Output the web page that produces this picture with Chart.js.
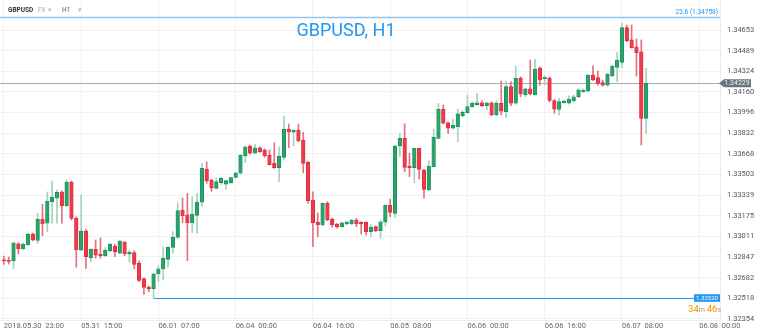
<!DOCTYPE html>
<html>
<head>
<meta charset="utf-8">
<script src="https://cdn.jsdelivr.net/npm/chart.js@4.4.0/dist/chart.umd.min.js"></script>
<style>
  body { margin: 0; background: #fff; font-family: Roboto, sans-serif; }
  #wrap { position: relative; width: 760px; height: 335px; overflow: hidden; }
  #chart { position: absolute; left: 0; top: 0; }
  .hd { position: absolute; top: 6px; font-size: 6.5px; line-height: 8px; white-space: nowrap; }
  #title { position: absolute; left: 0; top: 20px; width: 692px; text-align: center;
           font-size: 18px; line-height: 20px; color: #2196f3; }
  #timer { position: absolute; left: 688px; top: 303px; font-size: 7px; color: #9a9a9a; white-space: nowrap; }
  #timer b { font-size: 9.5px; font-weight: 500; color: #f5a623; }
</style>
</head>
<body>
<div id="wrap">
  <canvas id="chart" width="760" height="335"></canvas>
  <div class="hd" style="left:8px;color:#333;font-weight:bold;">GBPUSD</div>
  <div class="hd" style="left:38px;color:#aaa;">FX</div>
  <div class="hd" style="left:48px;color:#bbb;">&#9662;</div>
  <div class="hd" style="left:62px;color:#555;">H1</div>
  <div class="hd" style="left:78px;color:#bbb;">&#9662;</div>
  <div id="title">GBPUSD, H1</div>
  <div id="timer"><b>34</b>m <b>46</b>s</div>
</div>
<script>
// GBPUSD H1 candles, 2018.05.30 23:00 onwards (one per hour, weekend skipped)
const opens = [1.32822,1.32818,1.32815,1.32952,1.32910,1.32942,1.33029,1.32979,1.33149,1.33115,
  1.33287,1.33314,1.33364,1.33255,1.33443,1.33154,1.32900,1.33053,1.32841,1.32908,
  1.32868,1.32857,1.32894,1.32931,1.32876,1.32966,1.32868,1.32881,1.32798,1.32674,
  1.32608,1.32594,1.32711,1.32751,1.32828,1.32923,1.33003,1.33220,1.33183,1.33119,
  1.33178,1.33282,1.33547,1.33459,1.33393,1.33438,1.33427,1.33437,1.33479,1.33513,
  1.33653,1.33730,1.33672,1.33716,1.33698,1.33656,1.33592,1.33557,1.33640,1.33865,
  1.33841,1.33857,1.33778,1.33600,1.33300,1.33123,1.33101,1.33274,1.33146,1.33109,
  1.33088,1.33109,1.33109,1.33141,1.33123,1.33123,1.33048,1.33088,1.33056,1.33123,
  1.33258,1.33194,1.33730,1.33791,1.33571,1.33557,1.33712,1.33539,1.33380,1.33565,
  1.33791,1.34022,1.33915,1.33871,1.33883,1.33969,1.33995,1.34043,1.34059,1.34074,
  1.34051,1.34074,1.33977,1.34070,1.34003,1.34202,1.34070,1.34269,1.34136,1.34184,
  1.34136,1.34348,1.34265,1.34269,1.34092,1.34022,1.34074,1.34070,1.34088,1.34122,
  1.34162,1.34168,1.34295,1.34274,1.34234,1.34215,1.34287,1.34356,1.34396,1.34672,
  1.34574,1.34520,1.34480,1.33950];
const highs = [1.32854,1.32846,1.32966,1.32960,1.32958,1.33037,1.33037,1.33194,1.33266,1.33364,
  1.33451,1.33380,1.33374,1.33459,1.33451,1.33167,1.33340,1.33067,1.32912,1.32982,
  1.33000,1.32923,1.32955,1.32950,1.32982,1.32970,1.32902,1.32896,1.32816,1.32679,
  1.32616,1.32716,1.32775,1.32928,1.32928,1.33048,1.33279,1.33316,1.33353,1.33326,
  1.33353,1.33592,1.33603,1.33465,1.33475,1.33478,1.33459,1.33483,1.33520,1.33660,
  1.33730,1.33738,1.33746,1.33724,1.33708,1.33698,1.33756,1.33724,1.33969,1.33905,
  1.33857,1.33905,1.33839,1.33605,1.33366,1.33197,1.33277,1.33287,1.33157,1.33115,
  1.33127,1.33133,1.33146,1.33154,1.33127,1.33127,1.33109,1.33093,1.33135,1.33260,
  1.33306,1.33738,1.33831,1.33907,1.33672,1.33714,1.33714,1.33544,1.33613,1.33863,
  1.34070,1.34056,1.33923,1.33942,1.34022,1.34011,1.34136,1.34083,1.34149,1.34090,
  1.34076,1.34080,1.34090,1.34247,1.34247,1.34242,1.34367,1.34281,1.34189,1.34414,
  1.34420,1.34361,1.34289,1.34281,1.34101,1.34110,1.34096,1.34130,1.34136,1.34184,
  1.34184,1.34301,1.34369,1.34327,1.34255,1.34308,1.34375,1.34476,1.34707,1.34693,
  1.34693,1.34582,1.34574,1.34348];
const lows = [1.32788,1.32790,1.32751,1.32870,1.32902,1.32940,1.32974,1.32955,1.33016,1.33048,
  1.33115,1.33115,1.33115,1.33247,1.33141,1.32764,1.32894,1.32756,1.32809,1.32836,
  1.32836,1.32849,1.32889,1.32849,1.32870,1.32857,1.32804,1.32753,1.32650,1.32549,
  1.32570,1.32520,1.32650,1.32663,1.32767,1.32876,1.32998,1.33119,1.32817,1.33040,
  1.33037,1.33252,1.33433,1.33369,1.33388,1.33425,1.33385,1.33433,1.33475,1.33507,
  1.33597,1.33664,1.33666,1.33680,1.33640,1.33579,1.33552,1.33446,1.33618,1.33716,
  1.33730,1.33764,1.33517,1.33274,1.32928,1.33008,1.33095,1.33135,1.33083,1.33075,
  1.33083,1.33101,1.33104,1.33088,1.33029,1.33021,1.33008,1.33048,1.32995,1.33093,
  1.33167,1.33162,1.33645,1.33525,1.33485,1.33437,1.33465,1.33314,1.33374,1.33563,
  1.33788,1.33905,1.33831,1.33863,1.33764,1.33963,1.33990,1.34038,1.34054,1.34043,
  1.34016,1.33971,1.33969,1.33977,1.33955,1.34051,1.34062,1.34122,1.34122,1.34136,
  1.34136,1.34215,1.34215,1.34080,1.33990,1.33977,1.34070,1.34062,1.34078,1.34114,
  1.34157,1.34162,1.34250,1.34215,1.34207,1.34207,1.34281,1.34242,1.34356,1.34560,
  1.34508,1.34287,1.33738,1.33831];
const closes = [1.32815,1.32812,1.32958,1.32912,1.32950,1.33029,1.32982,1.33149,1.33109,1.33292,
  1.33324,1.33361,1.33255,1.33443,1.33154,1.32902,1.33053,1.32849,1.32908,1.32862,
  1.32857,1.32902,1.32950,1.32889,1.32974,1.32870,1.32884,1.32788,1.32661,1.32605,
  1.32594,1.32713,1.32753,1.32838,1.32923,1.33003,1.33215,1.33175,1.33119,1.33189,
  1.33284,1.33552,1.33454,1.33396,1.33446,1.33473,1.33454,1.33479,1.33517,1.33658,
  1.33724,1.33672,1.33716,1.33684,1.33653,1.33581,1.33557,1.33650,1.33865,1.33844,
  1.33857,1.33770,1.33592,1.33294,1.33119,1.33101,1.33274,1.33141,1.33101,1.33085,
  1.33119,1.33125,1.33141,1.33109,1.33109,1.33048,1.33083,1.33056,1.33127,1.33258,
  1.33202,1.33730,1.33791,1.33560,1.33557,1.33712,1.33544,1.33385,1.33571,1.33799,
  1.34022,1.33911,1.33871,1.33897,1.33985,1.33998,1.34043,1.34070,1.34074,1.34051,
  1.34074,1.33977,1.34070,1.34008,1.34202,1.34070,1.34269,1.34144,1.34184,1.34144,
  1.34340,1.34255,1.34277,1.34092,1.34024,1.34083,1.34088,1.34104,1.34122,1.34178,
  1.34176,1.34295,1.34255,1.34229,1.34215,1.34301,1.34367,1.34414,1.34672,1.34566,
  1.34512,1.34473,1.33950,1.34229];

// time axis labels, one every 16 candles
const tickIndex = [0, 16, 32, 48, 64, 80, 96, 112, 128, 144];
const tickLabels = ["2018.05.30  23:00", "05.31  15:00", "06.01  07:00", "06.04  00:00", "06.04  16:00",
  "06.05  08:00", "06.06  00:00", "06.06  16:00", "06.07  08:00", "06.08  00:00"];
// price axis
const priceTicks = [1.34653, 1.34489, 1.34324, 1.34160, 1.33996, 1.33832, 1.33668, 1.33503,
  1.33339, 1.33175, 1.33011, 1.32847, 1.32682, 1.32518, 1.32354];

const lastPrice = 1.34229;
const lowPrice = 1.32520;
const lowIndex = 31;
const fibPrice = 1.34758;
const fibLabel = "23.6 (1.34758)";

const upColor = "#27a36b", downColor = "#f0394a";
const upBorder = "#1d8a58", downBorder = "#d82a3c";
const upWick = "#a3d3bd", downWick = "#e2727d";

const isUp = i => closes[i] >= opens[i];

/* level lines and price tags */
const levels = {
  id: "levels",
  beforeDatasetsDraw(chart) {
    const { ctx, chartArea: a, scales: { x, y } } = chart;
    ctx.save();
    // fibo line at top
    let py = Math.round(y.getPixelForValue(fibPrice)) + 0.5;
    ctx.strokeStyle = "#8ec5f5";
    ctx.lineWidth = 1.5;
    ctx.beginPath(); ctx.moveTo(a.left, py); ctx.lineTo(a.right, py); ctx.stroke();
    // low line
    py = Math.round(y.getPixelForValue(lowPrice)) + 0.5;
    ctx.strokeStyle = "#2196f3";
    ctx.lineWidth = 1;
    ctx.beginPath(); ctx.moveTo(x.getPixelForValue(lowIndex), py); ctx.lineTo(a.right - 25, py); ctx.stroke();
    // last price line
    py = Math.round(y.getPixelForValue(lastPrice)) + 0.5;
    ctx.strokeStyle = "#a7abb0";
    ctx.beginPath(); ctx.moveTo(a.left, py); ctx.lineTo(a.right, py); ctx.stroke();
    ctx.restore();
  },
  afterDraw(chart) {
    const { ctx, chartArea: a, scales: { y } } = chart;
    ctx.save();
    ctx.font = "6.5px Roboto";
    ctx.fillStyle = "#2196f3";
    ctx.textAlign = "right";
    ctx.textBaseline = "bottom";
    ctx.fillText(fibLabel, a.right - 2, y.getPixelForValue(fibPrice) - 1.5);

    // low tag
    let py = y.getPixelForValue(lowPrice);
    ctx.fillStyle = "#2196f3";
    ctx.fillRect(a.right - 26, py - 3.8, 26, 7.6);
    ctx.fillStyle = "#fff";
    ctx.font = "6px Roboto";
    ctx.textAlign = "center";
    ctx.textBaseline = "middle";
    ctx.fillText(lowPrice.toFixed(5), a.right - 13, py + 0.3);

    // last price tag
    py = y.getPixelForValue(lastPrice);
    ctx.fillStyle = "#6d7479";
    ctx.beginPath();
    ctx.moveTo(a.right - 1, py);
    ctx.lineTo(a.right + 4, py - 4);
    ctx.lineTo(a.right + 31, py - 4);
    ctx.lineTo(a.right + 31, py + 4);
    ctx.lineTo(a.right + 4, py + 4);
    ctx.closePath();
    ctx.fill();
    ctx.fillStyle = "#eef0f1";
    ctx.font = "7px Roboto";
    ctx.fillText(lastPrice.toFixed(5), a.right + 17, py + 0.3);
    ctx.restore();
  }
};

Chart.defaults.font.family = "Roboto";

new Chart(document.getElementById("chart"), {
  type: "bar",
  data: {
    datasets: [
      {
        // bodies
        data: opens.map((o, i) => ({ x: i, y: [o, closes[i]] })),
        backgroundColor: opens.map((o, i) => isUp(i) ? upColor : downColor),
        borderColor: opens.map((o, i) => isUp(i) ? upBorder : downBorder),
        borderWidth: 0.7,
        borderSkipped: false,
        barThickness: 3.6,
        minBarLength: 1,
        grouped: false,
        order: 0
      },
      {
        // wicks
        data: lows.map((l, i) => ({ x: i, y: [l, highs[i]] })),
        backgroundColor: lows.map((l, i) => isUp(i) ? upWick : downWick),
        borderWidth: 0,
        barThickness: 1,
        grouped: false,
        order: 1
      }
    ]
  },
  options: {
    responsive: false,
    animation: false,
    devicePixelRatio: 1,
    layout: { padding: 0 },
    plugins: { legend: { display: false }, tooltip: { enabled: false } },
    scales: {
      x: {
        type: "linear",
        min: -0.8,
        max: 148.3,
        offset: false,
        grid: { color: "#f1f1f1", drawTicks: false, offset: false },
        border: { display: true, color: "#ececec" },
        afterBuildTicks: s => { s.ticks = tickIndex.map(v => ({ value: v })); },
        afterFit: s => { s.height = 15; s.paddingLeft = 0; s.paddingRight = 0; },
        ticks: {
          autoSkip: false, maxRotation: 0, align: "start", padding: 2,
          color: "#666", font: { size: 7.5 },
          callback: v => tickLabels[tickIndex.indexOf(v)]
        }
      },
      y: {
        position: "right",
        min: 1.32345,
        max: 1.34892,
        grid: { color: "#f1f1f1", drawTicks: false },
        border: { display: true, color: "#ececec" },
        afterBuildTicks: s => { s.ticks = priceTicks.map(v => ({ value: v })); },
        afterFit: s => { s.width = 40; s.paddingTop = 0; s.paddingBottom = 0; },
        ticks: {
          padding: 7, color: "#555", font: { size: 7.5 },
          callback: v => v.toFixed(5)
        }
      }
    }
  },
  plugins: [levels]
});
</script>
</body>
</html>
